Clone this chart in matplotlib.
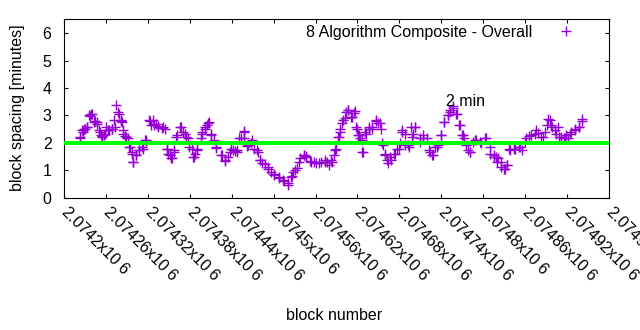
import numpy as np
import matplotlib
matplotlib.use("Agg")
import matplotlib.pyplot as plt

# block offsets from 2074200 and the spacing
block_offset = [
    23, 26, 29, 33, 37, 39, 44, 47, 50, 53, 55, 57, 60, 64, 68, 72, 75, 77, 81, 83,
    85, 87, 91, 94, 98, 99, 103, 107, 111, 116, 118, 122, 125,
    128, 132, 135, 140, 145, 147, 149, 153, 157, 160, 166, 171, 175, 179, 185, 187, 191,
    196, 198, 202, 205, 208, 211, 215, 218, 224, 230, 235, 239, 245, 251,
    248, 257, 258, 263, 268, 272, 277, 280, 284, 292, 296, 301, 308, 315, 320, 325,
    328, 333, 338, 344, 347, 352, 358, 365, 373,
    374, 379, 383, 386, 389, 393, 395, 399, 404, 407, 412, 416, 418, 421, 424, 427,
    431, 436, 441, 446, 449, 454, 456, 459, 462, 467, 472, 477, 481, 484, 488, 494, 497,
    500, 503, 509, 514, 519, 522, 526, 531, 535, 540, 544, 549, 552, 557, 561, 566,
    570, 573, 578, 581, 585, 590, 597, 604, 609, 615, 620,
    618, 625, 630, 634, 637, 644, 651, 656, 661, 668, 675, 682, 689, 693, 697, 702,
    707, 711, 717, 721, 726, 732, 737, 742,
    # second reading of the denser clusters
    23, 27, 30, 33, 36, 40, 43, 47, 51, 54, 59, 63, 68, 73, 78, 81, 85, 89, 93, 97,
    99, 103, 108, 113, 117, 123, 129, 135, 141, 147, 151, 154, 157, 162, 167, 173, 178,
    183, 186, 191, 197, 202, 206, 211, 218, 226, 230, 237, 242, 247, 253, 257, 262,
    264, 269, 276, 280, 288, 292, 300, 307, 314, 320, 326, 331, 336, 343, 347, 353,
    360, 368, 376, 382, 388, 392, 395, 398, 402, 406, 411, 415, 419, 422, 426, 428,
    432, 436, 441, 447, 452, 455, 459, 463, 468, 474, 479, 484, 488, 493, 498, 502,
    509, 514, 524, 528, 534, 540, 544, 549, 553, 557, 562, 567, 571, 576, 581, 588,
    595, 602, 610, 615, 621, 626, 631, 634, 638, 645, 652, 660, 666, 674, 679, 685,
    691, 695, 699, 704, 709, 715, 719, 724, 731, 737, 742,
]
spacing = [
    2.16, 2.46, 2.52, 2.58, 2.99, 3.07, 2.79, 2.77, 2.46, 2.28, 2.22, 2.28, 2.58, 2.46, 2.52, 2.83, 3.37, 3.11, 2.83, 2.77,
    2.46, 2.26, 2.16, 1.85, 1.67, 1.31, 1.55, 1.73, 1.85, 2.10, 2.06, 2.83, 2.64,
    2.83, 2.70, 2.58, 2.55, 2.52, 1.79, 1.61, 1.45, 1.67, 2.22, 2.56, 2.40, 2.22, 1.85, 1.49, 1.61, 1.79,
    2.16, 2.38, 2.52, 2.64, 2.77, 2.30, 2.10, 1.82, 1.55, 1.33, 1.49, 1.77, 1.70, 2.16,
    1.73, 2.43, 2.18, 1.91, 1.98, 1.79, 1.65, 1.37, 1.25, 1.12, 0.92, 0.82, 0.72, 0.60, 0.48, 0.76,
    0.92, 1.09, 1.43, 1.57, 1.53, 1.33, 1.31, 1.25, 1.37,
    1.31, 1.18, 1.31, 1.57, 1.79, 2.22, 2.52, 2.83, 3.13, 3.19, 2.95, 3.16, 2.58, 2.28, 2.16, 1.67,
    2.40, 2.58, 2.52, 2.83, 2.74, 2.52, 1.91, 1.57, 1.37, 1.49, 1.61, 1.79, 1.98, 2.46, 1.91, 1.85, 2.58,
    2.34, 2.58, 2.04, 2.16, 2.16, 1.73, 1.55, 1.85, 1.91, 2.28, 2.77, 3.01, 3.13, 3.28, 3.07, 2.64,
    2.28, 2.16, 1.73, 1.67, 2.04, 2.10, 1.98, 2.16, 1.61, 1.49, 1.31,
    1.49, 1.31, 1.06, 1.18, 1.79, 1.79, 1.85, 1.73, 2.16, 2.28, 2.46, 2.22, 2.40, 2.86, 2.64, 2.46,
    2.58, 2.22, 2.16, 2.16, 2.40, 2.52, 2.58, 2.86,
    # second reading of the denser clusters
    2.22, 2.40, 2.52, 2.58, 3.01, 3.07, 2.77, 2.68, 2.40, 2.24, 2.34, 2.46, 2.49, 2.58, 3.07, 2.80, 2.34, 2.22, 1.85, 1.61,
    1.31, 1.55, 1.73, 1.79, 2.12, 2.80, 2.64, 2.61, 2.58, 1.79, 1.55, 1.43, 1.73, 2.28, 2.58, 2.34, 2.16,
    1.76, 1.49, 1.73, 2.34, 2.58, 2.71, 2.34, 1.85, 1.55, 1.37, 1.67, 1.73, 1.67, 2.19, 2.40, 1.88,
    1.91, 2.12, 1.73, 1.37, 1.22, 1.06, 0.88, 0.76, 0.66, 0.52, 0.78, 1.00, 1.31, 1.55, 1.49, 1.31,
    1.27, 1.31, 1.31, 1.37, 1.73, 2.22, 2.40, 2.71, 2.89, 3.19, 2.95, 3.09, 2.52, 2.28, 2.10, 1.67,
    2.34, 2.52, 2.58, 2.80, 2.71, 1.98, 1.61, 1.25, 1.39, 1.61, 1.79, 2.40, 2.34, 1.91, 2.22, 2.58,
    2.16, 2.28, 1.67, 1.55, 1.85, 2.28, 2.77, 3.01, 3.19, 3.34, 3.07, 2.64, 2.28, 1.91, 1.67, 2.10,
    2.04, 2.16, 1.85, 1.55, 1.43, 1.12, 1.06, 1.18, 1.73, 1.79, 1.85, 2.04, 2.24, 2.34, 2.36, 2.22,
    2.64, 2.83, 2.58, 2.34, 2.22, 2.16, 2.28, 2.34, 2.46, 2.58, 2.80,
]
base_block = 2074200
x_ticks = [base_block + 60 * k for k in range(14)]
x_tick_labels = ["2.0742x10 6", "2.07426x10 6", "2.07432x10 6", "2.07438x10 6",
                 "2.07444x10 6", "2.0745x10 6", "2.07456x10 6", "2.07462x10 6",
                 "2.07468x10 6", "2.07474x10 6", "2.0748x10 6", "2.07486x10 6",
                 "2.07492x10 6", "2.07498x10 6"]
target_minutes = 2

plt.rcParams["font.family"] = ["Liberation Sans", "DejaVu Sans"]
plt.rcParams["font.size"] = 11.5

fig = plt.figure(figsize=(6.4, 3.3), dpi=100)
ax = fig.add_axes([0.1, 0.401, 0.8516, 0.54])

blocks = base_block + np.array(block_offset)
ax.plot(blocks, spacing, linestyle="none", marker="+", markersize=6.5,
        markeredgewidth=1.0, color="#9400d3", label="8 Algorithm Composite - Overall", zorder=2)
ax.axhline(target_minutes, color="#00ff00", linewidth=2.8, zorder=3)
ax.text(2074747, 3.5, "2 min", ha="left", va="center", fontsize=11.5)

ax.set_xlim(x_ticks[0], x_ticks[-1])
ax.set_ylim(0, 6.5)
ax.set_yticks(range(7))
ax.set_xticks(x_ticks)
ax.set_xticklabels(x_tick_labels, rotation=-45, ha="left", va="center", rotation_mode="anchor")
ax.tick_params(direction="in", length=3.2, width=0.8, top=True, right=True, labelsize=11.5)
ax.tick_params(axis="y", pad=9)
ax.tick_params(axis="x", pad=9)
for s in ax.spines.values():
    s.set_linewidth(0.8)

ax.legend(loc="upper right", bbox_to_anchor=(0.97, 1.034), frameon=False, markerfirst=False,
          handlelength=2.0, handletextpad=1.1, fontsize=11.5, borderaxespad=0.3)

fig.text(18 / 640, 1 - 108 / 330, "block spacing [minutes]", rotation=90, ha="center", va="center")
fig.text(334 / 640, 1 - 315 / 330, "block number", ha="center", va="center")

fig.savefig("out.png", dpi=100)
